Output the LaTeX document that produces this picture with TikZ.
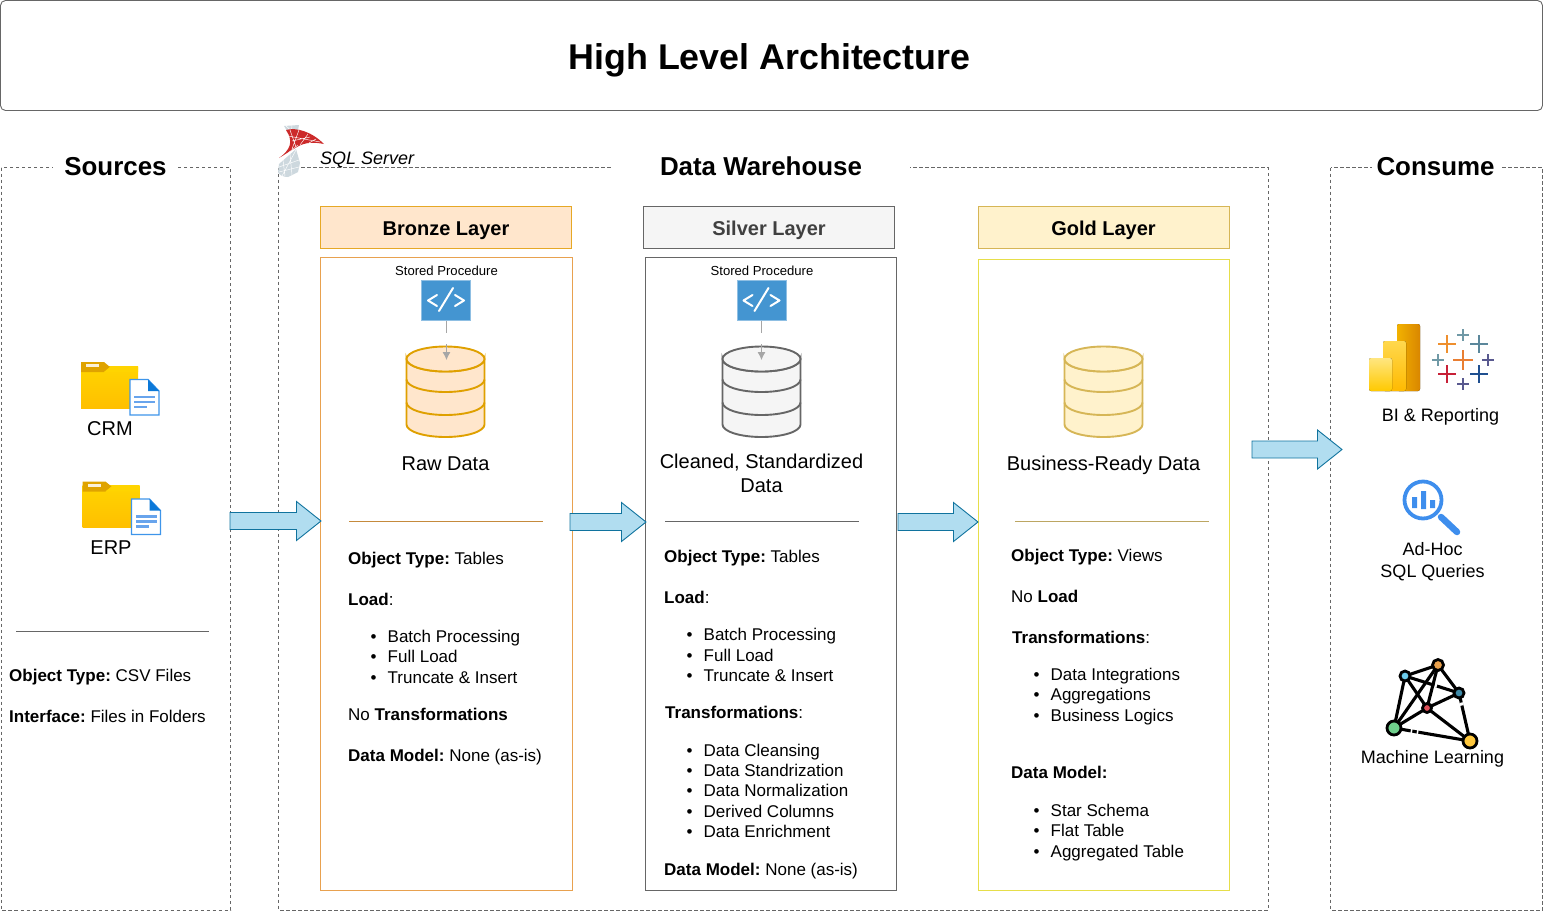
\documentclass[tikz,border=0pt]{standalone}
\usepackage{fontspec}
\setmainfont{Liberation Sans}
\usetikzlibrary{calc,arrows.meta}
\definecolor{frameC}{HTML}{666666}
\definecolor{bronzeF}{HTML}{FFE6CC}
\definecolor{bronzeS}{HTML}{E6A826}
\definecolor{bronzeBox}{HTML}{E8A14F}
\definecolor{bronzeCyl}{HTML}{DFA000}
\definecolor{bronzeRule}{HTML}{C58A3C}
\definecolor{silverF}{HTML}{F5F5F5}
\definecolor{silverS}{HTML}{666666}
\definecolor{goldF}{HTML}{FFF2CC}
\definecolor{goldS}{HTML}{D6B656}
\definecolor{goldBox}{HTML}{E6DE4A}
\definecolor{arrowF}{HTML}{B1DDF0}
\definecolor{arrowS}{HTML}{10739E}
\definecolor{spBlue}{HTML}{4495D1}
\definecolor{folderA}{HTML}{FFD400}
\definecolor{folderB}{HTML}{FFBF00}
\definecolor{folderTab}{HTML}{DFA300}
\definecolor{docBlue}{HTML}{3E95EA}
\definecolor{docDark}{HTML}{0B78D8}
\definecolor{docLine}{HTML}{68A4EC}
\definecolor{sqlRed}{HTML}{CC2A2A}
\definecolor{sqlGray}{HTML}{CDD8DE}
\definecolor{magBlue}{HTML}{3E8EED}
\definecolor{mlOrange}{HTML}{E8A04C}
\definecolor{mlLight}{HTML}{6CCBEB}
\definecolor{mlTeal}{HTML}{3E8AA8}
\definecolor{mlRed}{HTML}{E0505A}
\definecolor{mlGreen}{HTML}{6FD08C}
\definecolor{mlYellow}{HTML}{FFC83D}
\definecolor{biA}{HTML}{F2B200}
\definecolor{biB}{HTML}{D98600}
\definecolor{biC}{HTML}{FFD84D}
\definecolor{biD}{HTML}{FFBA00}
\definecolor{biE}{HTML}{FFE680}
\definecolor{biF}{HTML}{FFC900}
\tikzset{
  x=1pt,y=-1pt,
  frameDash/.style={draw=frameC,dash pattern=on 3.5pt off 2.5pt,line width=0.9pt},
  headLabel/.style={font=\bfseries\fontsize{25.9}{28}\selectfont,fill=white,inner xsep=11.5pt,inner ysep=2pt,anchor=center},
  layerHead/.style={font=\bfseries\fontsize{20}{24}\selectfont,anchor=center,minimum width=251pt,minimum height=42pt,inner sep=0pt,line width=0.9pt,text height=16.5pt,text depth=0pt},
  layerBox/.style={line width=0.9pt},
  txt/.style={font=\fontsize{17}{20}\selectfont,anchor=west,inner sep=0pt,text height=15pt,text depth=2pt},
  ctxt/.style={font=\fontsize{20}{24}\selectfont,anchor=center,inner sep=0pt,align=center},
  iconT/.style={font=\fontsize{18}{22}\selectfont,anchor=center,inner sep=0pt,align=center},
  smallT/.style={font=\fontsize{13.1}{16}\selectfont,anchor=center,inner sep=0pt},
  flow/.style={fill=arrowF,draw=arrowS,line width=0.9pt,line join=miter},
  rule/.style={line width=0.8pt},
  spLink/.style={draw=black!35,line width=0.9pt},
  spGlyph/.style={white,line width=2pt,line cap=round,line join=round},
  mlEdge/.style={line width=3.1pt,black},
  mlDot/.style={circle,draw=black,line width=2.8pt,inner sep=0pt},
  plusMark/.style={line width=2.9pt},
  sqlMesh/.style={white,line width=0.45pt},
  pics/dbcyl/.style n args={2}{code={
    \filldraw[fill=#1,draw=#2,line width=1.9pt]
      (-39,-33) arc[start angle=180,end angle=360,x radius=39,y radius=-12.5]
      -- (39,32.5) arc[start angle=0,end angle=180,x radius=39,y radius=12.5] -- cycle;
    \filldraw[fill=#1,draw=#2,line width=1.9pt] (0,-33) ellipse[x radius=39,y radius=12.5];
    \draw[draw=#2,line width=1.9pt] (-39,-12.5) arc[start angle=180,end angle=360,x radius=39,y radius=-12.5];
    \draw[draw=#2,line width=1.9pt] (-39,10.5) arc[start angle=180,end angle=360,x radius=39,y radius=-12.5];
  }},
  pics/folderdoc/.style={code={
    \shade[top color=folderA,bottom color=folderB] (0,4) -- (57,4) -- (57,46) -- (0,46) -- cycle;
    \fill[folderTab] (0,0) -- (23,0) -- (29,5) -- (23,10) -- (0,10) -- cycle;
    \fill[folderA] (23,10) -- (29,5) -- (57,5) -- (57,10) -- cycle;
    \fill[white!85!folderTab] (5,2) rectangle (18,5);
    \filldraw[fill=white,draw=docBlue,line width=1.2pt] (49,17.5) -- (67,17.5) -- (78,29) -- (78,53) -- (49,53) -- cycle;
    \fill[docDark] (67,17.5) -- (78,29) -- (67,29) -- cycle;
    \fill[docLine] (53,33.5) rectangle (74,36);
    \fill[docLine] (53,38.5) rectangle (74,41);
    \fill[docLine] (53,43.5) rectangle (66,46);
  }},
}
\newcommand{\tl}[5][]{\node[txt,#1] (#2) at (#3,#4) {#5};}
\newcommand{\bl}[4]{\node[txt] (#1) at (#2,#3) {\kern-1.5pt\relax\makebox[17pt][l]{\textbullet}#4};}
\newcommand{\bk}[1]{\textbf{#1}\kern-1.5pt\relax}
\newcommand{\flowarrow}[3]{%
  \filldraw[flow] (#1,#3-8.5) -- (#2-24.5,#3-8.5) -- (#2-24.5,#3-19.5) -- (#2,#3) -- (#2-24.5,#3+19.5) -- (#2-24.5,#3+8.5) -- (#1,#3+8.5) -- cycle;}
\begin{document}
\begin{tikzpicture}
\useasboundingbox (0,0) rectangle (1543,911);
% title
\node[draw=frameC,rounded corners=5pt,line width=0.9pt,minimum width=1542pt,minimum height=110pt,inner sep=0pt] (title) at (771.5,55.5) {};
\node[font=\bfseries\fontsize{35.8}{40}\selectfont,inner sep=0pt] (titleText) at (769.5,60.5) {High Level Architecture};
% frames
\draw[frameDash] (1,167.5) rectangle (230.5,910);
\draw[frameDash] (278.5,167.5) rectangle (1268,910);
\draw[frameDash] (1330.5,167.5) rectangle (1542.5,910);
\node[headLabel] (srcLabel) at (115.5,166.5) {Sources};
\node[headLabel,inner xsep=48.5pt] (dwLabel) at (761,166.5) {Data Warehouse};
\node[headLabel,inner xsep=5pt] (conLabel) at (1435.5,166.5) {Consume};
% SQL server logo
\fill[sqlGray] (284,126) -- (299,125) -- (297,135) -- (290,136) -- cycle;
\fill[sqlGray] (279,164) -- (296,149) -- (300,163) -- (298,172) -- (288,177) .. controls (283,177) and (279,175) .. (278,172) -- cycle;
\draw[sqlMesh] (279,167) -- (299,160) (282,176) -- (296,150) (292,175) -- (290,154) (279,172) -- (299,167) (285,176) -- (283,160) (286,126) -- (296,135) (292,125) -- (291,136);
\fill[sqlRed] (286,130) .. controls (297,127) and (312,132) .. (324,144) .. controls (314,142) and (305,142) .. (297,147) -- (279,158) .. controls (290,150) and (294,142) .. (286,130) -- cycle;
\draw[sqlMesh] (290,130) -- (296,147) (299,130) -- (292,149) (308,134) -- (300,145) (316,139) -- (309,143) (288,136) -- (320,142) (292,141) -- (310,137) (283,157) -- (298,145);
\node[font=\itshape\fontsize{18}{20}\selectfont,inner sep=0pt,anchor=west] (sqlText) at (320,160) {SQL Server};
% layer heads
\node[layerHead,draw=bronzeS,fill=bronzeF] (bronzeHead) at (446,227.5) {Bronze Layer};
\node[layerHead,draw=silverS,fill=silverF,text=black!75] (silverHead) at (769,227.5) {Silver Layer};
\node[layerHead,draw=goldS,fill=goldF] (goldHead) at (1103.5,227.5) {Gold Layer};
% layer boxes
\draw[layerBox,draw=bronzeBox] (320.5,257.5) rectangle (572,890);
\draw[layerBox,draw=silverS] (645.5,257.5) rectangle (896.5,890);
\draw[layerBox,draw=goldBox] (978,259.5) rectangle (1229,890);
% flow arrows
\flowarrow{230}{321}{521}
\flowarrow{570}{646}{522}
\flowarrow{898}{978}{522}
\flowarrow{1252}{1342}{449.5}
% Sources
\pic at (81,362) {folderdoc};
\pic at (82.5,481.5) {folderdoc};
\node[ctxt] (crm) at (110,429) {CRM};
\node[ctxt] (erp) at (111,548) {ERP};
\draw[rule,draw=frameC] (16,631.5) -- (209,631.5);
\tl{srcObj}{9}{675}{\bk{Object Type:} CSV Files}
\tl{srcIface}{9}{716}{\bk{Interface:} Files in Folders}
% Bronze
\node[smallT] (spA) at (446.5,270.5) {Stored Procedure};
\node[fill=spBlue,draw=spBlue!60!white,minimum width=49pt,minimum height=40pt,inner sep=0pt,line width=0.6pt] (spAicon) at (446,300.5) {};
\pic at (445.5,392) {dbcyl={bronzeF}{bronzeCyl}};
\coordinate (dbAtop) at (446.5,360);
\node[ctxt] (rawData) at (445.5,464) {Raw Data};
\draw[rule,draw=bronzeRule] (349,521.5) -- (543,521.5);
\tl{bObj}{348}{558}{\bk{Object Type:} Tables}
\tl{bLoad}{348}{599}{\textbf{Load}:}
\bl{bL1}{372}{636}{Batch Processing}
\bl{bL2}{372}{656}{Full Load}
\bl{bL3}{372}{677}{Truncate \& Insert}
\tl{bTr}{348}{714}{No \textbf{Transformations}}
\tl{bDm}{348}{755}{\bk{Data Model:} None (as-is)}
% Silver
\node[smallT] (spB) at (762,270.5) {Stored Procedure};
\node[fill=spBlue,draw=spBlue!60!white,minimum width=49pt,minimum height=40pt,inner sep=0pt,line width=0.6pt] (spBicon) at (761.5,300.5) {};
\pic at (761.5,392) {dbcyl={silverF}{silverS}};
\coordinate (dbBtop) at (761.5,360);
\node[ctxt] (cleanData) at (761.5,473) {Cleaned, Standardized\\Data};
\draw[rule,draw=silverS] (665,521.5) -- (859,521.5);
\tl{sObj}{664}{556}{\bk{Object Type:} Tables}
\tl{sLoad}{664}{597}{\textbf{Load}:}
\bl{sL1}{688}{634}{Batch Processing}
\bl{sL2}{688}{655}{Full Load}
\bl{sL3}{688}{675}{Truncate \& Insert}
\tl{sTr}{665}{712}{\textbf{Transformations}:}
\bl{sT1}{688}{750}{Data Cleansing}
\bl{sT2}{688}{770}{Data Standrization}
\bl{sT3}{688}{790}{Data Normalization}
\bl{sT4}{688}{811}{Derived Columns}
\bl{sT5}{688}{831}{Data Enrichment}
\tl{sDm}{664}{869}{\bk{Data Model:} None (as-is)}
% Gold
\pic at (1103.5,392) {dbcyl={goldF}{goldS}};
\node[ctxt] (bizData) at (1103.5,465) {Business-Ready Data};
\draw[rule,draw=goldS!70!gray] (1015,521.5) -- (1209,521.5);
\tl{gObj}{1011}{555}{\bk{Object Type:} Views}
\tl{gLoad}{1011}{596}{No \textbf{Load}}
\tl{gTr}{1012}{637}{\textbf{Transformations}:}
\bl{gT1}{1035}{674}{Data Integrations}
\bl{gT2}{1035}{694}{Aggregations}
\bl{gT3}{1035}{715}{Business Logics}
\tl{gDm}{1011}{772}{\textbf{Data Model:}}
\bl{gM1}{1035}{810}{Star Schema}
\bl{gM2}{1035}{830}{Flat Table}
\bl{gM3}{1035}{851}{Aggregated Table}
% Stored procedure glyphs
\foreach \cx in {446,761.5}{
  \draw[spGlyph]
    (\cx-9,295) -- (\cx-18,300.5) -- (\cx-9,306)
    (\cx+9,295) -- (\cx+18,300.5) -- (\cx+9,306)
    (\cx-7,311) -- (\cx+7,288);
}
% stored procedure connectors
\draw[spLink] (spAicon.south) -- ++(0,12);
\draw[spLink,-{Latex[length=8pt,width=8pt]}] ($(dbAtop)+(0,-16)$) -- (dbAtop);
\draw[spLink] (spBicon.south) -- ++(0,12);
\draw[spLink,-{Latex[length=8pt,width=8pt]}] ($(dbBtop)+(0,-16)$) -- (dbBtop);
% BI icon
\fill[rounded corners=2pt,left color=biA,right color=biB] (1397,324) rectangle (1420,391);
\fill[rounded corners=2pt,top color=biC,bottom color=biD] (1383,341) rectangle (1406,391);
\fill[rounded corners=2pt,top color=biE,bottom color=biF] (1369,358) rectangle (1392,391);
\foreach \px/\py/\arm/\col in {1463/360/10/E97E32,1447/344/9/EE8F2E,1463/335/6/7099A6,1479/344/9/5B879B,1438/360/6/7099A6,1488/360/6/59598F,1447/374/9/C72037,1479/374/9/1F4F8F,1463/384/6/59598F}{
  \definecolor{pc}{HTML}{\col}
  \draw[plusMark,draw=pc] (\px-\arm,\py) -- (\px+\arm,\py) (\px,\py-\arm) -- (\px,\py+\arm);
}
\node[iconT] (biText) at (1440.5,417) {BI \& Reporting};
% Magnifier
\draw[magBlue,line width=3.8pt] (1423,500) circle[radius=18.5];
\fill[magBlue] (1412,497) rectangle (1417,508) (1421,491) rectangle (1426,509) (1430,500) rectangle (1435,508);
\draw[magBlue,line width=6.5pt,line cap=round] (1441,517) -- (1457,532);
\node[iconT] (adhoc) at (1432.5,562) {Ad-Hoc\\SQL Queries};
% ML icon
\begin{scope}[mlEdge]
\coordinate (mlOc) at (1438,665);
\coordinate (mlBc) at (1405,676);
\coordinate (mlTc) at (1459,693);
\coordinate (mlRc) at (1427,708);
\coordinate (mlGc) at (1394,728);
\coordinate (mlYc) at (1470,741);
\draw (mlGc) -- (mlBc); \draw (mlGc) -- (mlOc); \draw (mlGc) -- (mlRc); \draw (mlGc) -- (mlYc);
\draw (mlBc) -- (mlOc); \draw (mlBc) -- (mlRc); \draw (mlBc) -- (mlTc);
\draw (mlOc) -- (mlRc); \draw (mlOc) -- (mlTc); \draw (mlRc) -- (mlTc);
\draw (mlRc) -- (mlYc); \draw (mlTc) -- (mlYc);
\end{scope}
\draw[white,line width=3.6pt] ($(mlGc)!0.22!(mlYc)$) -- ($(mlGc)!0.24!(mlYc)$) ($(mlGc)!0.3!(mlYc)$) -- ($(mlGc)!0.32!(mlYc)$);
\draw[white,line width=3.6pt] ($(mlBc)!0.55!(mlTc)$) -- ($(mlBc)!0.59!(mlTc)$);
\draw[white,line width=3.6pt] ($(mlTc)!0.2!(mlYc)$) -- ($(mlTc)!0.26!(mlYc)$);
\node[mlDot,minimum size=11pt,fill=mlOrange] (mlO) at (mlOc) {};
\node[mlDot,minimum size=10pt,fill=mlLight] (mlB) at (mlBc) {};
\node[mlDot,minimum size=10pt,fill=mlTeal] (mlT) at (mlTc) {};
\node[mlDot,minimum size=9pt,fill=mlRed] (mlR) at (mlRc) {};
\node[mlDot,minimum size=14pt,fill=mlGreen] (mlG) at (mlGc) {};
\node[mlDot,minimum size=14pt,fill=mlYellow] (mlY) at (mlYc) {};
\node[iconT] (mlText) at (1432.5,759) {Machine Learning};
\end{tikzpicture}
\end{document}
